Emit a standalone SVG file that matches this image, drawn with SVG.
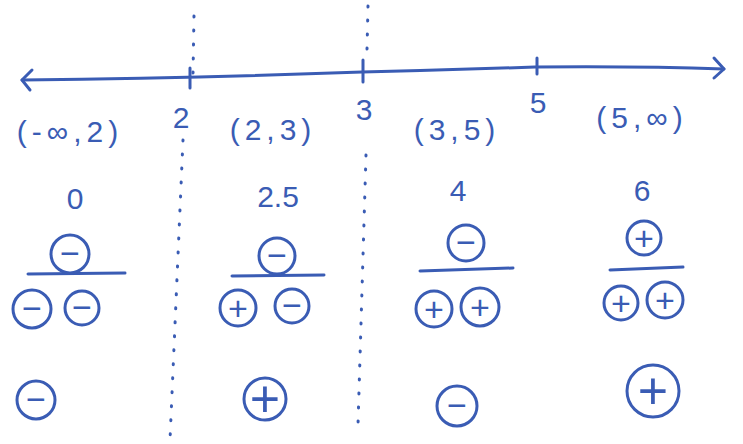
<svg xmlns="http://www.w3.org/2000/svg" width="743" height="444" viewBox="0 0 743 444">
<style>
.ln{fill:none;stroke:#3a5cb4;stroke-width:3;stroke-linecap:round;stroke-linejoin:round}
.dot{fill:none;stroke:#3a5cb4;stroke-width:3;stroke-linecap:round;stroke-dasharray:1 13}
.c{fill:none;stroke:#3a5cb4;stroke-width:3}
.t{fill:#3a5cb4;font-family:"Liberation Sans","DejaVu Sans",sans-serif;text-anchor:middle}
.big{font-size:30px}
.iv{font-size:30px;letter-spacing:5px}
.sg{font-size:34px}
.sgl{font-size:52px}
</style>
<rect width="743" height="444" fill="#ffffff"/>
<g id="connectors">
<path class="ln" d="M22,80 Q200,78 362,72 Q450,70 535,67 Q640,66 724,69"/>
<path class="ln" d="M32,70 L22,80 L30,90"/>
<path class="ln" d="M714,58 L724,69 L714,78"/>
<path class="ln" d="M190,68 L190,88"/>
<path class="ln" d="M363,60 L363,82"/>
<path class="ln" d="M537,58 L537,74"/>
<path class="dot" d="M194,16 L193,74"/>
<path class="dot" d="M368,6 L367,50"/>
<path class="dot" d="M183,140 L170,440"/>
<path class="dot" d="M366,155 L358,425"/>
<path class="ln" d="M28,274 L125,273"/>
<path class="ln" d="M232,276 L324,275"/>
<path class="ln" d="M420,271 L513,268"/>
<path class="ln" d="M610,270 L683,267"/>
</g>
<g id="tick-labels">
<text class="t big" x="181" y="128">2</text>
<text class="t big" x="364" y="120">3</text>
<text class="t big" x="538" y="113">5</text>
</g>
<g id="interval-1">
<text class="t iv" x="70" y="142">(-∞,2)</text>
<text class="t big" x="75" y="209">0</text>
<circle class="c" cx="70" cy="254" r="19"/><text class="t sg" x="70" y="265">−</text>
<circle class="c" cx="32" cy="309" r="19"/><text class="t sg" x="32" y="320">−</text>
<circle class="c" cx="82" cy="308" r="17"/><text class="t sg" x="82" y="319">−</text>
<circle class="c" cx="36" cy="400" r="19"/><text class="t sg" x="36" y="411">−</text>
</g>
<g id="interval-2">
<text class="t iv" x="273" y="140">(2,3)</text>
<text class="t big" x="278" y="207">2.5</text>
<circle class="c" cx="277" cy="256" r="18"/><text class="t sg" x="277" y="267">−</text>
<circle class="c" cx="238" cy="308" r="18"/><text class="t sg" x="238" y="320">+</text>
<circle class="c" cx="292" cy="306" r="17"/><text class="t sg" x="292" y="317">−</text>
<circle class="c" cx="265" cy="399" r="21"/><text class="t sgl" x="265" y="417">+</text>
</g>
<g id="interval-3">
<text class="t iv" x="457" y="140">(3,5)</text>
<text class="t big" x="458" y="201">4</text>
<circle class="c" cx="466" cy="243" r="18"/><text class="t sg" x="466" y="254">−</text>
<circle class="c" cx="434" cy="309" r="18"/><text class="t sg" x="434" y="321">+</text>
<circle class="c" cx="480" cy="307" r="19"/><text class="t sg" x="480" y="319">+</text>
<circle class="c" cx="457" cy="406" r="20"/><text class="t sg" x="457" y="417">−</text>
</g>
<g id="interval-4">
<text class="t iv" x="642" y="128">(5,∞)</text>
<text class="t big" x="642" y="201">6</text>
<circle class="c" cx="644" cy="238" r="17"/><text class="t sg" x="644" y="250">+</text>
<circle class="c" cx="621" cy="303" r="17"/><text class="t sg" x="621" y="315">+</text>
<circle class="c" cx="665" cy="300" r="18"/><text class="t sg" x="665" y="312">+</text>
<circle class="c" cx="653" cy="391" r="26"/><text class="t sgl" x="653" y="409">+</text>
</g>
</svg>
